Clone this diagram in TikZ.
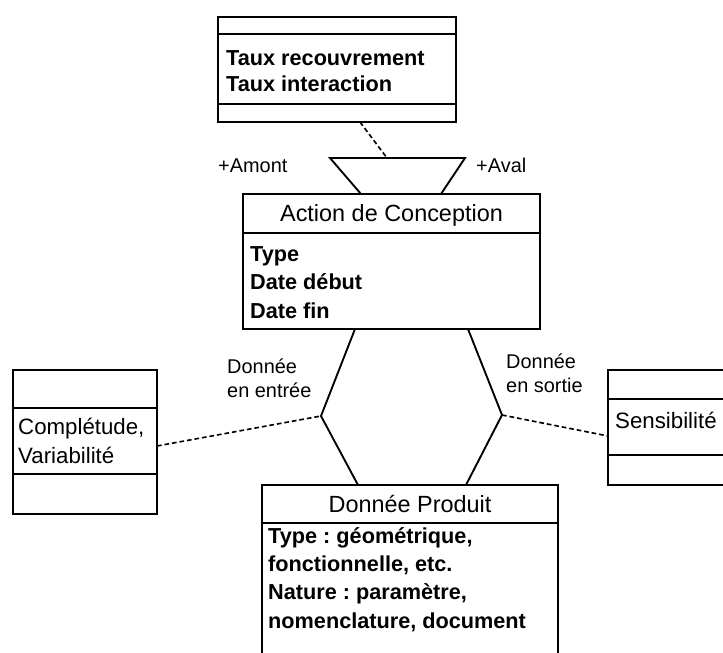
\documentclass[tikz,border=0pt]{standalone}
\usepackage{fontspec}
\setmainfont{Liberation Sans}
\usetikzlibrary{positioning,calc}
\frenchspacing

\begin{document}
\begin{tikzpicture}[x=0.3mm,y=-0.3mm,
  cls/.style={line width=1.6pt},
  assoc/.style={line width=1.4pt,dash pattern=on 4pt off 2.5pt},
  ttl/.style={inner sep=0pt,anchor=base,font=\fontsize{20}{24}\selectfont},
  attr/.style={inner sep=0pt,anchor=base west,align=left,font=\fontsize{18.5}{24}\selectfont\bfseries},
  plain/.style={inner sep=0pt,anchor=base west,align=left,font=\fontsize{19}{24}\selectfont},
  lbl/.style={inner sep=0pt,anchor=base west,align=left,font=\fontsize{17}{20}\selectfont}]
  \clip (0,0) rectangle (723,653);
  % association class (top)
  \draw[cls] (218,17) rectangle (456,122);
  \draw[cls] (218,34) -- (456,34) (218,104) -- (456,104);
  \node[attr] (taux) at (226,92) {Taux recouvrement\\[-1pt]Taux interaction};
  \coordinate (taux-s) at (360,122);
  % Action de Conception
  \draw[cls] (243,194) rectangle (540,329);
  \draw[cls] (243,233) -- (540,233);
  \node[ttl] (action) at (391.5,222) {Action de Conception};
  \node[attr] (action-att) at (250,318) {Type\\Date début\\Date fin};
  % Donnee Produit
  \draw[cls] (262,700) |- (558,485) -- (558,700);
  \draw[cls] (262,523) -- (558,523);
  \node[ttl] (produit) at (410,512) {Donnée Produit};
  \node[attr] (produit-att) at (268,628)
    {Type : géométrique,\\fonctionnelle, etc.\\Nature : paramètre,\\nomenclature, document};
  % left association class
  \draw[cls] (13,370) rectangle (157,514);
  \draw[cls] (13,408) -- (157,408) (13,474) -- (157,474);
  \node[plain] (entree-att) at (18,463) {Complétude,\\Variabilité};
  \coordinate (entree-e) at (157,446);
  % right association class
  \draw[cls] (760,370) -| (608,485) -- (760,485);
  \draw[cls] (608,399) -- (760,399) (608,455) -- (760,455);
  \node[plain] (sortie-att) at (615,428) {Sensibilité};
  \coordinate (sortie-w) at (608,436);
  % reflexive association Amont / Aval
  \coordinate (amont) at (361,194);
  \coordinate (aval) at (441,194);
  \coordinate (amont-c) at (330,158);
  \coordinate (aval-c) at (465,158);
  \coordinate (lien) at (387,158);
  \draw[cls] (amont) -- (amont-c) -- (aval-c) -- (aval);
  \draw[assoc] (taux-s) -- (lien);
  \node[lbl] (amont-lbl) at (218,173) {+Amont};
  \node[lbl] (aval-lbl) at (476,173) {+Aval};
  % entree / sortie
  \coordinate (act-in) at (355,329);
  \coordinate (act-out) at (468,329);
  \coordinate (prod-in) at (358,485);
  \coordinate (prod-out) at (466,485);
  \coordinate (in) at (321,416);
  \coordinate (out) at (502,415);
  \draw[cls] (act-in) -- (in) -- (prod-in);
  \draw[cls] (act-out) -- (out) -- (prod-out);
  \draw[assoc] (entree-e) -- (in);
  \draw[assoc] (out) -- (sortie-w);
  \node[lbl] (in-lbl) at (227,397) {Donnée\\en entrée};
  \node[lbl] (out-lbl) at (506,392) {Donnée\\en sortie};
\end{tikzpicture}
\end{document}
